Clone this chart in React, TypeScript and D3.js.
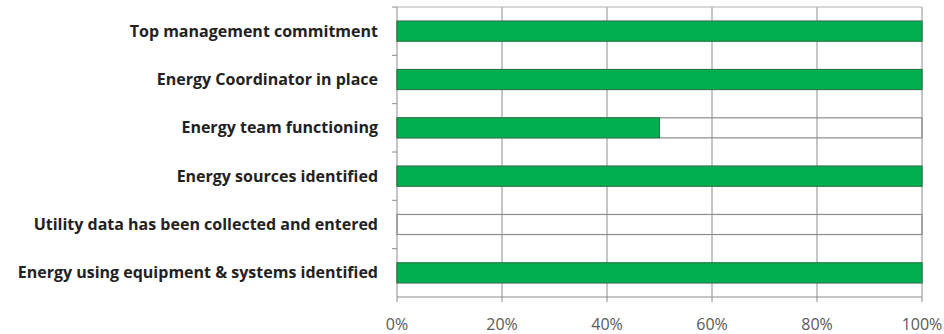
import React from "react";
import * as d3 from "d3";

const categories = [
  "Top management commitment",
  "Energy Coordinator in place",
  "Energy team functioning",
  "Energy sources identified",
  "Utility data has been collected and entered",
  "Energy using equipment & systems identified",
];
const values = [1, 1, 0.5, 1, 0, 1];
const xTicks = [0, 0.2, 0.4, 0.6, 0.8, 1];

const W = 944, H = 334;
const M = { left: 397, right: 22, top: 7, bottom: 37 };

export default function App() {
  const x = d3.scaleLinear().domain([0, 1]).range([M.left, W - M.right]);
  const y = d3.scaleBand().domain(categories).range([M.top, H - M.bottom]).paddingInner(0.585).paddingOuter(0.2925);
  const yb = d3.scaleBand().domain(categories).range([M.top, H - M.bottom]);
  const fmt = d3.format(".0%");
  const bottom = H - M.bottom;
  return (
    <svg width={W} height={H} style={{ position: "absolute", left: 0, top: 0, background: "#fff" }}>
      {xTicks.map((t) => (
        <line key={"g" + t} x1={x(t)} x2={x(t)} y1={M.top} y2={bottom + 5} stroke="#8c8c8c" strokeWidth={1} />
      ))}
      <line x1={M.left} x2={W - M.right} y1={M.top} y2={M.top} stroke="#b0b0b0" />
      <line x1={M.left} x2={W - M.right} y1={bottom} y2={bottom} stroke="#8c8c8c" />
      {categories.map((c, i) => (
        <line key={"t" + i} x1={M.left - 5} x2={M.left} y1={yb(c)!} y2={yb(c)!} stroke="#8c8c8c" />
      ))}
      {categories.map((c, i) => (
        <g key={c}>
          <rect x={x(0)} y={y(c)!} width={x(1) - x(0)} height={y.bandwidth()} fill="none" stroke="#8c8c8c" strokeWidth={1.2} />
          {values[i] > 0 && (
            <rect x={x(0)} y={y(c)!} width={x(values[i]) - x(0)} height={y.bandwidth()} fill="#00b050" stroke="#1f7a45" strokeWidth={1} />
          )}
          <text x={M.left - 19} y={y(c)! + y.bandwidth() / 2} dy="0.35em" textAnchor="end"
            fontFamily="'Open Sans', sans-serif" fontWeight={700} fontSize={16} fill="#222">{c}</text>
        </g>
      ))}
      {xTicks.map((t) => (
        <text key={"l" + t} x={x(t)} y={bottom + 33} textAnchor="middle" fontFamily="'Open Sans', sans-serif" fontSize={16} fill="#595959">{fmt(t)}</text>
      ))}
    </svg>
  );
}
